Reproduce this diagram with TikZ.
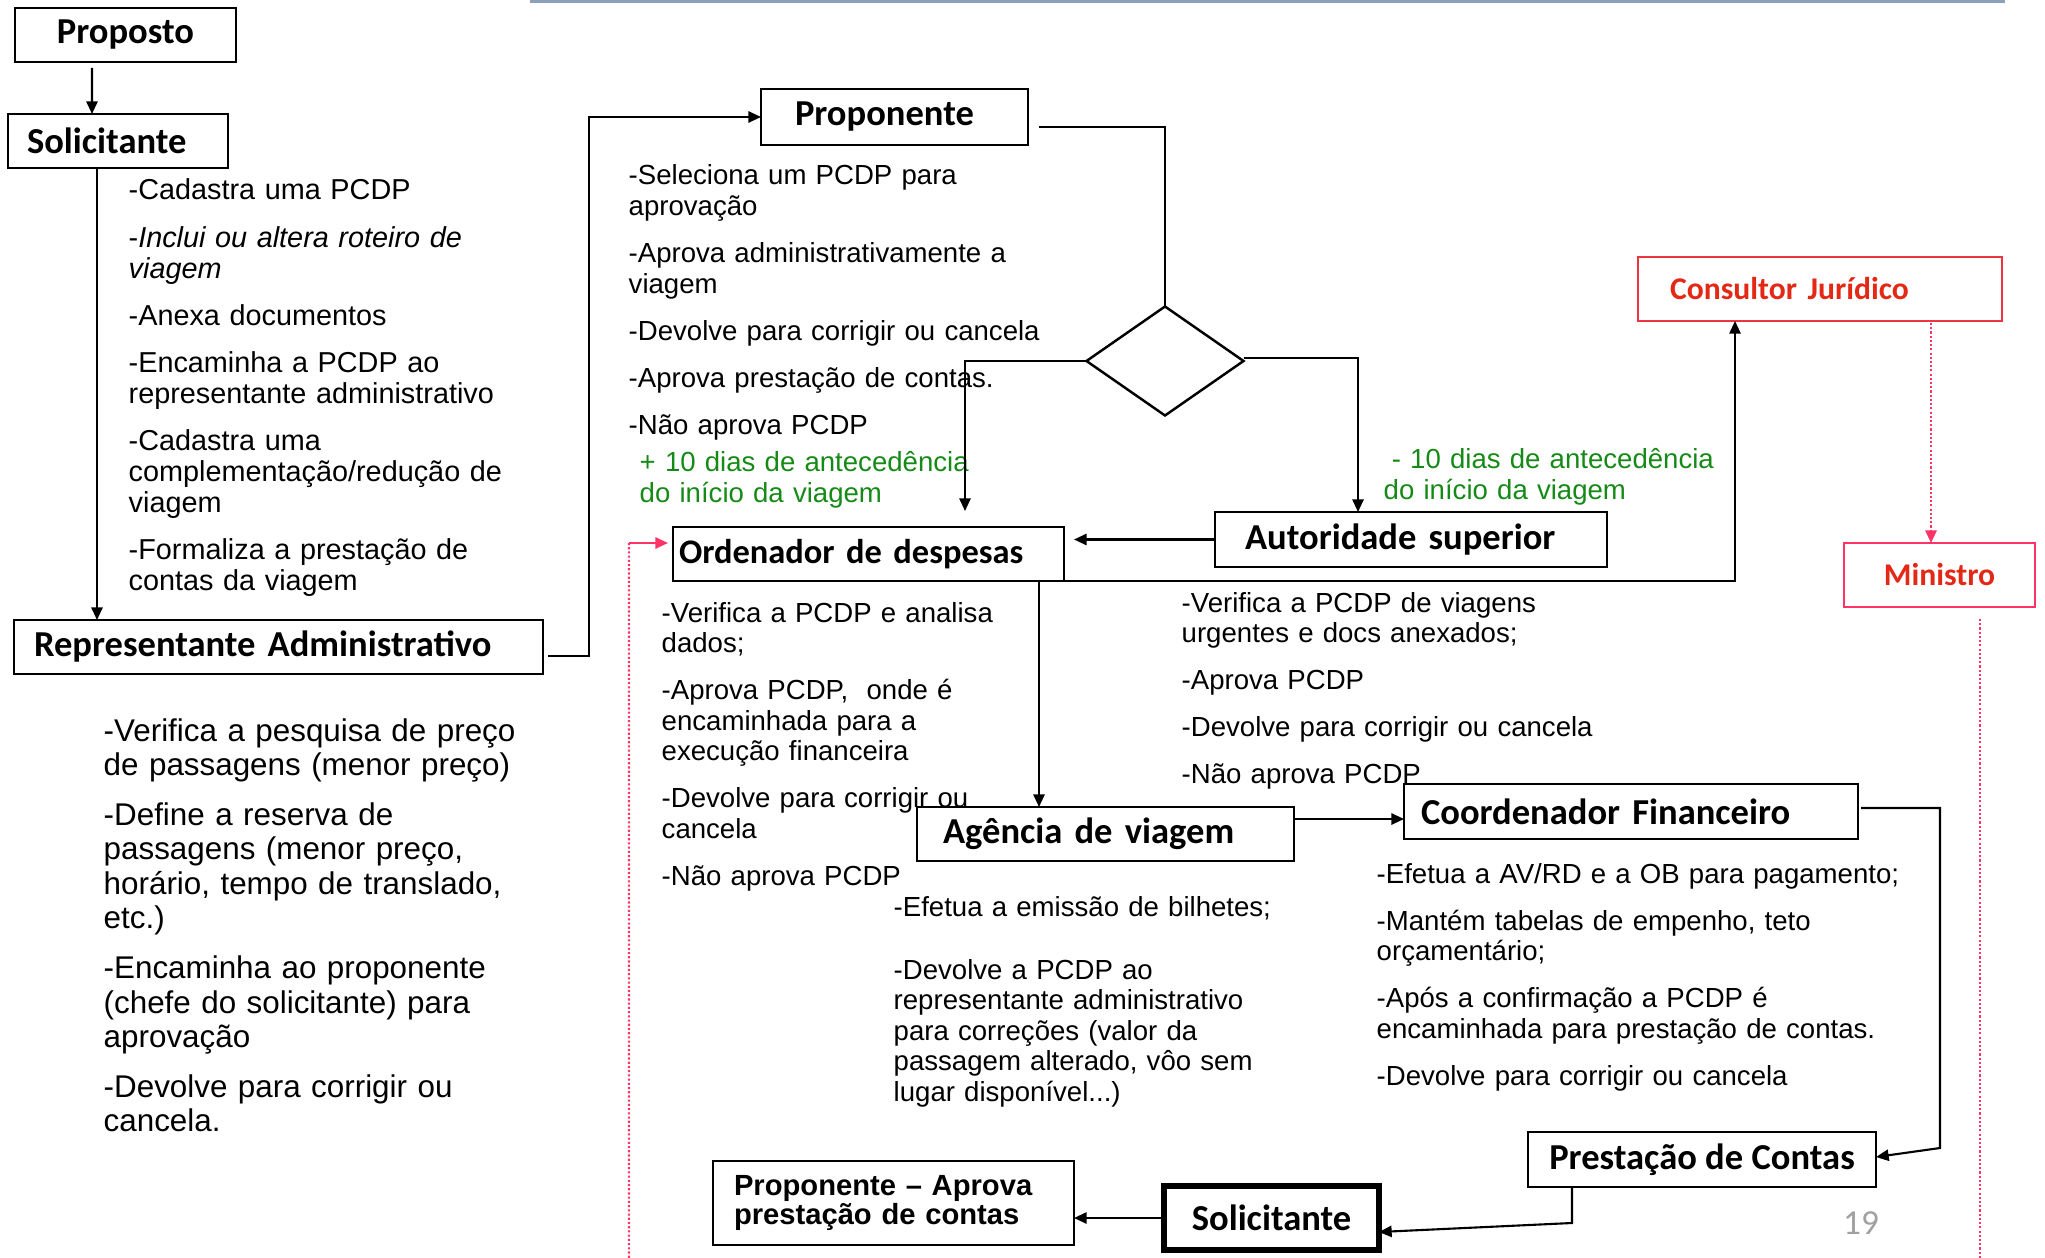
\documentclass[tikz,border=0pt]{standalone}
\usepackage{fontspec}
\setmainfont{Liberation Sans}
\newfontfamily\calibri{Carlito}
\usetikzlibrary{arrows.meta, shapes.geometric}

\definecolor{redtxt}{RGB}{228,40,22}
\definecolor{boxred}{RGB}{238,52,62}
\definecolor{pinkln}{RGB}{255,51,102}
\definecolor{greentxt}{RGB}{22,138,22}
\definecolor{topline}{RGB}{140,160,185}
\definecolor{pgnum}{RGB}{160,160,160}

\begin{document}
\begin{tikzpicture}[x=0.1mm, y=-0.1mm,
		titlebox/.style={draw, line width=0.7pt, anchor=north west, align=center, inner ysep=0pt, outer sep=0pt, font=\calibri\bfseries\fontsize{10.4}{12}\selectfont},
		redbox/.style={titlebox, draw=boxred, text=redtxt, font=\calibri\bfseries\fontsize{9}{11}\selectfont},
		itemlist/.style={anchor=base west, inner sep=0pt, text width=70mm, align=left, font=\fontsize{7.85}{8.7}\selectfont},
		greennote/.style={itemlist, text=greentxt},
		flow/.style={line width=0.6pt, -{Triangle[length=3.6pt,width=3.2pt]}},
		plain/.style={line width=0.6pt},
		pinkflow/.style={line width=0.6pt, pinkln, -{Triangle[length=3.6pt,width=3.2pt]}},
		pinkdots/.style={line width=0.7pt, pinkln, dash pattern=on 0.6pt off 0.6pt}]
		
		\useasboundingbox (0,0) rectangle (2045,1258);
		
		% slide rule
		\draw[topline, line width=1pt] (530,1) -- (2005,1);
		
		% left column
		\node[titlebox, minimum width=22.1mm, minimum height=5.4mm] (proposto) at (15,8) {Proposto};
		\node[titlebox, minimum width=22mm, minimum height=5.4mm, text width=18.2mm, inner xsep=1.9mm, align=left] (solic) at (8,114) {Solicitante};
		\node[itemlist, font=\fontsize{8.2}{8.8}\selectfont] (soliclist) at (128,200) {-Cadastra uma PCDP\\[4.6pt]
			-\textit{Inclui ou altera roteiro de}\\\textit{viagem}\\[4.6pt]
			-Anexa documentos\\[4.6pt]
			-Encaminha a PCDP ao\\representante administrativo\\[4.6pt]
			-Cadastra uma\\complementação/redução de\\viagem\\[4.6pt]
			-Formaliza a prestação de\\contas da viagem};
		\node[titlebox, minimum width=52.9mm, minimum height=5.4mm, text width=48.9mm, inner xsep=2mm, align=left] (repadm) at (14,620) {Representante Administrativo};
		\node[itemlist, font=\fontsize{8.93}{9.8}\selectfont] (replist) at (103,741) {-Verifica a pesquisa de preço\\de passagens (menor preço)\\[4.4pt]
			-Define a reserva de\\passagens (menor preço,\\horário, tempo de translado,\\etc.)\\[4.4pt]
			-Encaminha ao proponente\\(chefe do solicitante) para\\aprovação\\[4.4pt]
			-Devolve para corrigir ou\\cancela.};
		
		% proponente and decision
		\node[titlebox, minimum width=26.7mm, minimum height=5.6mm, text width=19.9mm, inner xsep=3.4mm, align=left] (propo) at (761,89) {Proponente};
		\node[itemlist] (propolist) at (628,185) {-Seleciona um PCDP para\\aprovação\\[4.7pt]
			-Aprova administrativamente a\\viagem\\[4.7pt]
			-Devolve para corrigir ou cancela\\[4.7pt]
			-Aprova prestação de contas.\\[4.7pt]
			-Não aprova PCDP};
		\node[draw, diamond, line width=0.7pt, minimum width=15.7mm, minimum height=10.9mm, inner sep=0pt, outer sep=0pt] (dec) at (1165,361) {};
		\node[greennote] (noteplus) at (639,472) {+ 10 dias de antecedência\\do início da viagem};
		\node[greennote] (noteminus) at (1383,469) {\hspace{2.3pt}- 10 dias de antecedência\\do início da viagem};
		
		% ordenador and autoridade
		\node[titlebox, minimum width=39.1mm, minimum height=5.4mm, text width=37.9mm, inner xsep=0.6mm, align=left, font=\calibri\bfseries\fontsize{9.8}{12}\selectfont] (ordena) at (673,527) {Ordenador de despesas};
		\node[itemlist] (ordlist) at (661,622) {-Verifica a PCDP e analisa\\dados;\\[4.7pt]
			-Aprova PCDP,\ \ onde é\\encaminhada para a\\execução financeira\\[4.7pt]
			-Devolve para corrigir ou\\cancela\\[4.7pt]
			-Não aprova PCDP};
		\node[titlebox, minimum width=39.2mm, minimum height=5.5mm, text width=33.2mm, inner xsep=3mm, align=left] (autor) at (1215,512) {Autoridade superior};
		\node[itemlist] (autlist) at (1181,612) {-Verifica a PCDP de viagens\\urgentes e docs anexados;\\[4.7pt]
			-Aprova PCDP\\[4.7pt]
			-Devolve para corrigir ou cancela\\[4.7pt]
			-Não aprova PCDP};
		
		% consultor and ministro
		\node[redbox, minimum width=36.4mm, minimum height=6.4mm, text width=30mm, inner xsep=3.2mm, align=left] (consul) at (1638,257) {Consultor Jurídico};
		\node[redbox, draw=pinkln, minimum width=19.1mm, minimum height=6.4mm] (ministro) at (1844,543) {Ministro};
		
		% agencia and coordenador
		\node[titlebox, minimum width=37.7mm, minimum height=5.4mm, text width=32.5mm, inner xsep=2.6mm, align=left] (agencia) at (917,807) {Agência de viagem};
		\node[itemlist] (aglist) at (893,916) {-Efetua a emissão de bilhetes;\\[9.3pt]
			-Devolve a PCDP ao\\representante administrativo\\para correções (valor da\\passagem alterado, vôo sem\\lugar disponível...)};
		\node[titlebox, minimum width=45.4mm, minimum height=5.5mm, text width=42mm, inner xsep=1.7mm, align=left] (coord) at (1404,784) {Coordenador Financeiro};
		\node[itemlist] (coordlist) at (1376,883) {-Efetua a AV/RD e a OB para pagamento;\\[4.7pt]
			-Mantém tabelas de empenho, teto\\orçamentário;\\[4.7pt]
			-Após a confirmação a PCDP é\\encaminhada para prestação de contas.\\[4.7pt]
			-Devolve para corrigir ou cancela};
		
		% bottom row
		\node[titlebox, minimum width=34.8mm, minimum height=5.5mm] (prest) at (1528,1132) {Prestação de Contas};
		\node[titlebox, line width=1.6pt, minimum width=21.5mm, minimum height=6.4mm] (solic2) at (1164,1186) {Solicitante};
		\node[titlebox, minimum width=36.1mm, minimum height=8.4mm, text width=31.9mm, inner xsep=2.1mm, align=left, font=\bfseries\fontsize{8.3}{8.5}\selectfont] (propaprova) at (713,1161) {Proponente – Aprova\\prestação de contas};
		\node[text=pgnum, font=\calibri\fontsize{10}{12}\selectfont] (pagenum) at (1861,1223) {19};
		
		% connectors
		\draw[flow] ([xshift=-3.35mm,yshift=-0.6mm]proposto.south) -- ([xshift=-2.6mm]solic.north);
		\draw[flow] ([xshift=-2.1mm]solic.south) -- ([xshift=-2.1mm]solic.south |- repadm.north);
		\draw[flow] ([xshift=0.5mm,yshift=-0.9mm]repadm.east) -- ++(41,0) |- (propo.west);
		\draw[plain] ([xshift=1.1mm,yshift=-1mm]propo.east) -| (dec.north);
		\draw[flow] (dec.west) -| ([xshift=9.65mm,yshift=1.6mm]ordena.north);
		\draw[flow] ([yshift=0.3mm]dec.east) -| ([xshift=-5.3mm]autor.north);
		\draw[flow] (autor.west) -- ([xshift=1mm]ordena.east |- autor.west);
		\draw[flow] (ordena.south east) -| ([xshift=-8.5mm]consul.south);
		\draw[pinkdots] ([xshift=11.1mm,yshift=-0.2mm]consul.south) -- ([xshift=11.1mm,yshift=1.2mm]consul.south |- ministro.north);
		\draw[pinkflow] ([xshift=11.1mm,yshift=1.3mm]consul.south |- ministro.north) -- ([xshift=11.1mm]consul.south |- ministro.north);
		\draw[pinkdots] ([xshift=4.05mm,yshift=-1.2mm]ministro.south) -- ++(0,650);
		\coordinate (pinkturn) at ([xshift=-4.4mm,yshift=1.1mm]ordena.west);
		\coordinate (pinkfoot) at (629,1262);
		\draw[pinkdots] (pinkfoot) -- (pinkturn);
		\draw[pinkflow] (pinkturn) -- ([xshift=-0.5mm,yshift=1.1mm]ordena.west);
		\draw[flow] ([xshift=17.05mm]ordena.south) -- ([xshift=17.05mm]ordena.south |- agencia.north);
		\draw[flow] ([yshift=1.5mm]agencia.east) -- ([yshift=1.5mm]agencia.east -| coord.west);
		\draw[flow] ([xshift=0.3mm,yshift=0.35mm]coord.east) -- ++(79,0) -- ++(0,340) -- ([yshift=0.25mm]prest.east);
		\draw[flow] ([xshift=-13mm]prest.south) -- ++(0,36) -- ([yshift=-1.4mm]solic2.east);
		\draw[flow] (solic2.west) -- (solic2.west -| propaprova.east);
		
	\end{tikzpicture}
\end{document}
